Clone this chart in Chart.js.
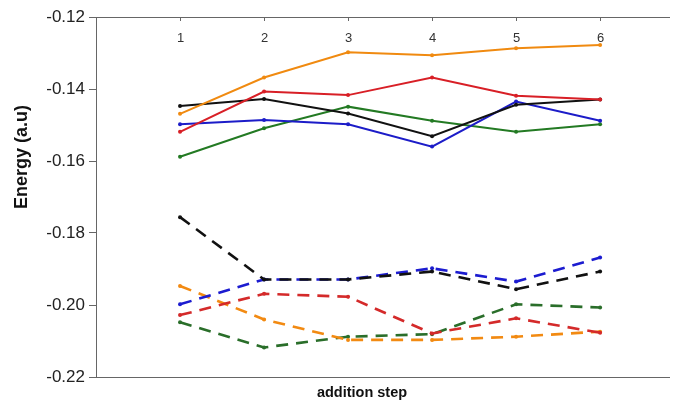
<!DOCTYPE html>
<html>
<head>
<meta charset="utf-8">
<script src="https://cdn.jsdelivr.net/npm/chart.js@4.4.1/dist/chart.umd.min.js"></script>
<style>
    html, body { margin: 0; padding: 0; background: #fff; }
</style>
</head>
<body>
<canvas id="energy_chart" width="673" height="402"></canvas>
<script>
// addition steps (x) and y axis range
var steps = [1, 2, 3, 4, 5, 6];
var yMin = -0.22, yMax = -0.12, yStep = 0.02;

// solid lines
var orangeSolid = [-0.1469, -0.1368, -0.1298, -0.1306, -0.1287, -0.1278];
var redSolid    = [-0.1519, -0.1407, -0.1417, -0.1368, -0.1419, -0.1429];
var blackSolid  = [-0.1447, -0.1428, -0.1468, -0.1531, -0.1444, -0.1429];
var blueSolid   = [-0.1498, -0.1486, -0.1498, -0.1560, -0.1435, -0.1488];
var greenSolid  = [-0.1588, -0.1509, -0.1449, -0.1488, -0.1519, -0.1498];

// dashed lines
var blackDash  = [-0.1756, -0.1929, -0.1929, -0.1907, -0.1956, -0.1907];
var blueDash   = [-0.1998, -0.1929, -0.1929, -0.1898, -0.1935, -0.1868];
var redDash    = [-0.2028, -0.1969, -0.1977, -0.2079, -0.2037, -0.2077];
var orangeDash = [-0.1947, -0.2040, -0.2097, -0.2097, -0.2088, -0.2074];
var greenDash  = [-0.2048, -0.2118, -0.2088, -0.2081, -0.1998, -0.2007];

function pts(vals) {
    return vals.map(function(v, i) { return {x: steps[i], y: v}; });
}

function series(vals, color, dashed) {
    return {
        data: pts(vals),
        borderColor: color,
        backgroundColor: color,
        borderWidth: dashed ? 2.6 : 2,
        borderDash: dashed ? [12, 8] : [],
        pointRadius: 2,
        pointBorderWidth: 0,
        tension: 0
    };
}

var axisColor = '#666';

// top axis numbers + inner ticks, and both axis titles
var decorPlugin = {
    id: 'decor',
    afterDraw: function(chart) {
        var ctx = chart.ctx;
        var xs = chart.scales.x;
        var top = chart.chartArea.top;
        ctx.save();
        ctx.strokeStyle = axisColor;
        ctx.lineWidth = 1;
        ctx.fillStyle = '#333';
        ctx.font = '13px Arial, "Liberation Sans"';
        ctx.textAlign = 'center';
        ctx.textBaseline = 'middle';
        steps.forEach(function(s) {
            var px = Math.round(xs.getPixelForValue(s)) + 0.5;
            ctx.beginPath();
            ctx.moveTo(px, top);
            ctx.lineTo(px, top + 4);
            ctx.stroke();
            ctx.fillText(String(s), px, top + 21);
        });

        ctx.fillStyle = '#111';
        ctx.font = 'bold 14.5px Arial, "Liberation Sans"';
        ctx.fillText('addition step', 362, 393);

        ctx.translate(22, 157);
        ctx.rotate(-Math.PI / 2);
        ctx.font = 'bold 18px Arial, "Liberation Sans"';
        ctx.fillText('Energy (a.u)', 0, 0);
        ctx.restore();
    }
};

var context = document.getElementById('energy_chart').getContext('2d');
var energy_chart = new Chart(context, {
    type: 'line',
    data: {
        datasets: [
            series(blackDash, '#111111', true),
            series(blueDash, '#1c1cd0', true),
            series(redDash, '#d42a2a', true),
            series(orangeDash, '#f28a12', true),
            series(greenDash, '#2a6e2a', true),
            series(orangeSolid, '#f08a10', false),
            series(redSolid, '#d81f26', false),
            series(blackSolid, '#111111', false),
            series(blueSolid, '#1c1cc8', false),
            series(greenSolid, '#237a23', false)
        ]
    },
    options: {
        responsive: false,
        animation: false,
        layout: { padding: { top: 17, left: 0, right: 0, bottom: 0 } },
        plugins: { legend: { display: false }, tooltip: { enabled: false } },
        scales: {
            x: {
                type: 'linear',
                position: 'bottom',
                min: 0,
                max: 6.82,
                afterFit: function(s) { s.height = 25; },
                ticks: { display: false },
                grid: { drawOnChartArea: false, drawTicks: false },
                border: { color: axisColor, width: 1 }
            },
            x2: {
                type: 'linear',
                position: 'top',
                min: 0,
                max: 6.82,
                afterFit: function(s) { s.height = 0; },
                ticks: { display: false },
                grid: { drawOnChartArea: false, drawTicks: false },
                border: { color: axisColor, width: 1 }
            },
            y: {
                min: yMin,
                max: yMax,
                afterFit: function(s) { s.width = 96; },
                ticks: {
                    stepSize: yStep,
                    color: '#222',
                    font: { family: 'Arial, "Liberation Sans"', size: 17 },
                    padding: 4,
                    callback: function(v) { return v.toFixed(2); }
                },
                grid: { drawOnChartArea: false, tickLength: 7, color: axisColor },
                border: { color: axisColor, width: 1 }
            }
        }
    },
    plugins: [decorPlugin]
});
</script>
</body>
</html>
